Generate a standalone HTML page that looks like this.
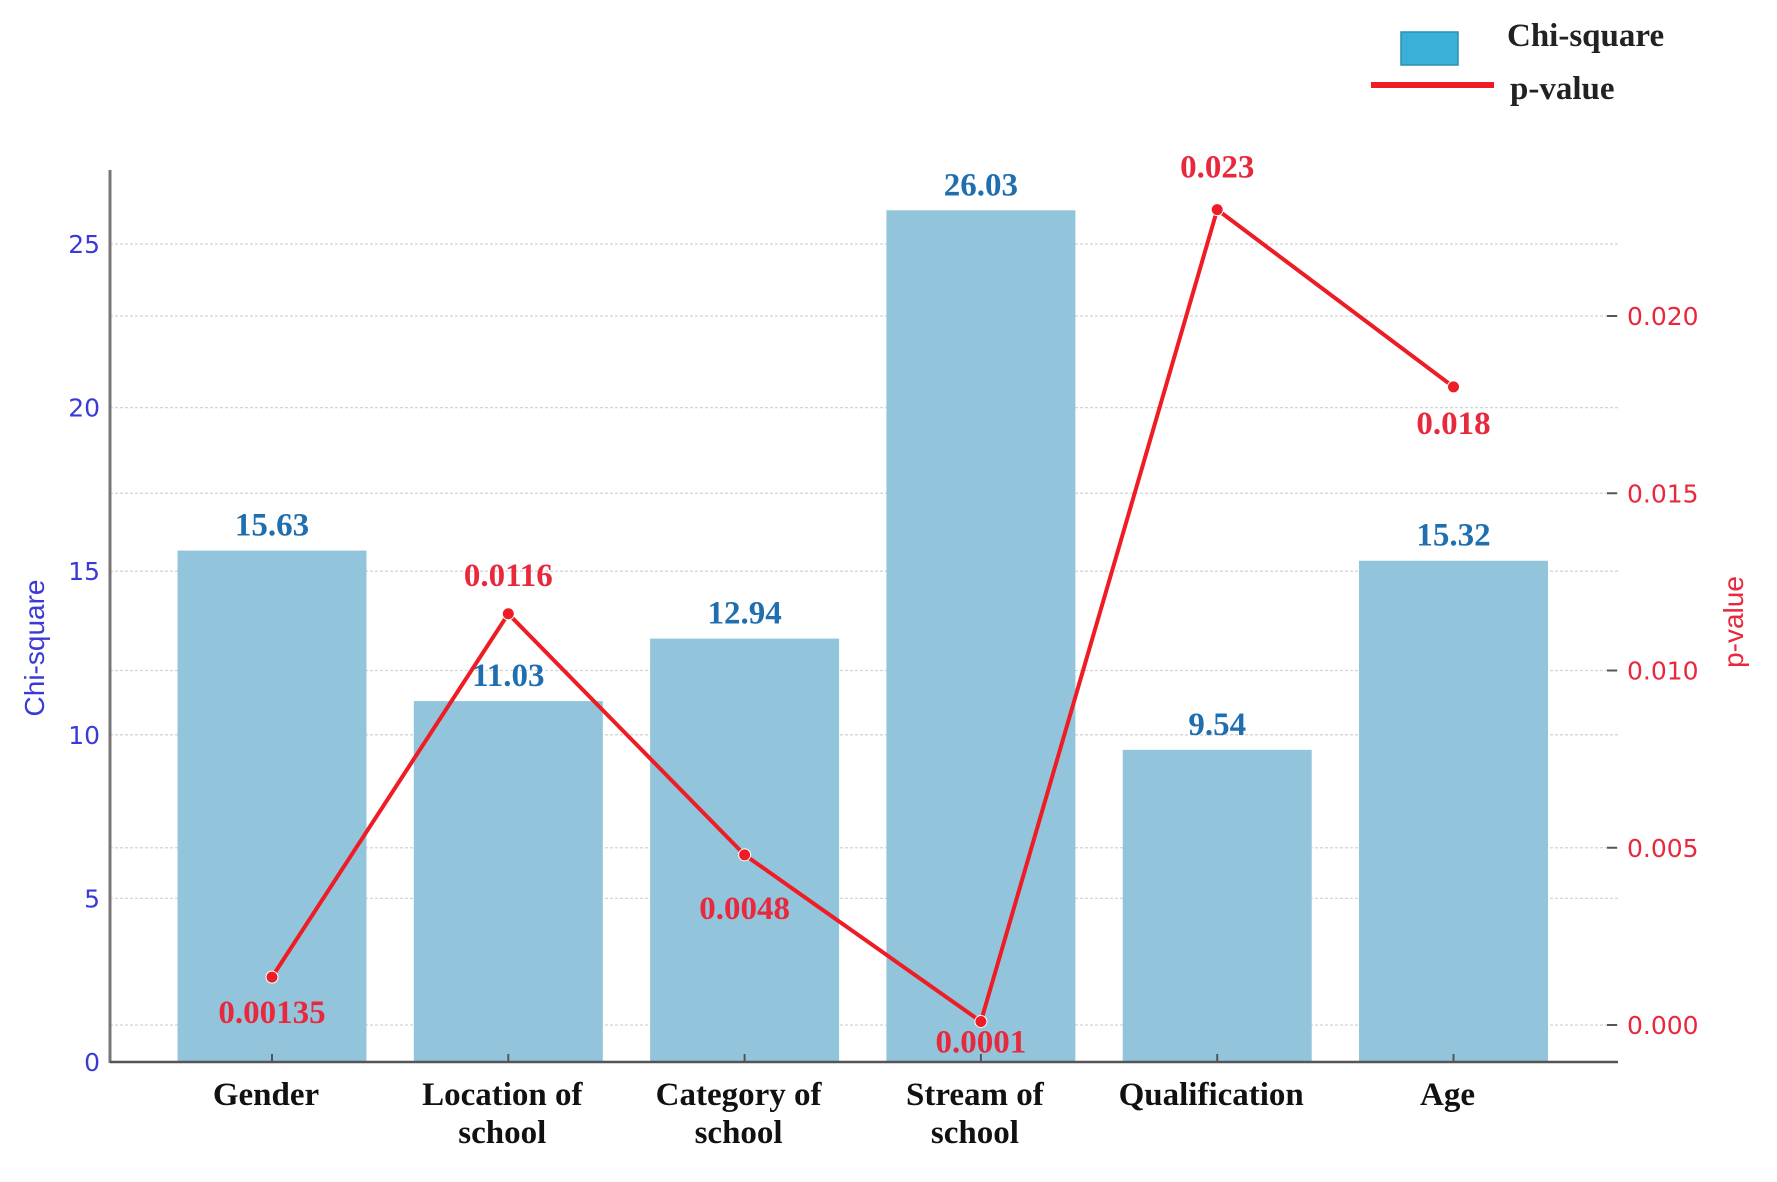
<!DOCTYPE html>
<html><head><meta charset="utf-8"><style>
html,body{margin:0;padding:0;background:#fff;}
svg{display:block;}
</style></head><body>
<svg id="chart" width="1777" height="1182" viewBox="0 0 1777 1182" xmlns="http://www.w3.org/2000/svg">
<g id="grid"></g>
<g id="bars"></g>
<g id="axes"></g>
<g id="line"></g>
<g id="labels"></g>
<text x="0" y="0" transform="translate(44,648) rotate(-90)" text-anchor="middle" font-family="Liberation Sans, sans-serif" font-size="28" fill="#3a3ad8">Chi-square</text>
<text x="0" y="0" transform="translate(1743,622) rotate(-90)" text-anchor="middle" font-family="Liberation Sans, sans-serif" font-size="28" fill="#e8283c">p-value</text>
<g>
<rect x="1401" y="32" width="57" height="33" fill="#3ab0d8" stroke="#2b8fb0" stroke-width="1.5"/>
<text x="1507" y="46" font-family="Liberation Serif, serif" font-weight="bold" font-size="33" fill="#222">Chi-square</text>
<line x1="1371" y1="85" x2="1494" y2="85" stroke="#ee1c24" stroke-width="6"/>
<text x="1510" y="99" font-family="Liberation Serif, serif" font-weight="bold" font-size="33" fill="#222">p-value</text>
</g>
</svg>
<script>
const categories = [["Gender"],["Location of","school"],["Category of","school"],["Stream of","school"],["Qualification"],["Age"]];
const chiValues = [15.63, 11.03, 12.94, 26.03, 9.54, 15.32];
const pValues = [0.00135, 0.0116, 0.0048, 0.0001, 0.023, 0.018];
const chiLabels = ["15.63","11.03","12.94","26.03","9.54","15.32"];
const pLabels = ["0.00135","0.0116","0.0048","0.0001","0.023","0.018"];
const chiTicks = [0,5,10,15,20,25];
const pTicks = [0,0.005,0.010,0.015,0.020];
const pTickLabels = ["0.000","0.005","0.010","0.015","0.020"];

const NS = "http://www.w3.org/2000/svg";
const X0 = 110, X1 = 1618, YTOP = 170;
const xC = i => 272 + i * 236.3;
const yChi = v => 1062 - v * 32.72;
const yP = v => 1025 - v * 35450;
const BW = 189;
const pLabelDy = [46, -28, 64, 31, -32, 47];
function mk(tag, attrs, parent) {
  const e = document.createElementNS(NS, tag);
  for (const k in attrs) e.setAttribute(k, attrs[k]);
  parent.appendChild(e);
  return e;
}
const grid = document.getElementById('grid');
const bars = document.getElementById('bars');
const axes = document.getElementById('axes');
const line = document.getElementById('line');
const labels = document.getElementById('labels');

chiTicks.forEach((t, i) => {
  const y = yChi(t);
  if (t > 0) {
    const g = mk('line', {x1: X0, x2: X1, y1: y, y2: y, stroke: '#d4d4d4', 'stroke-width': 1.3, 'stroke-dasharray': '3 2'}, grid);
    
    
  }
  const tl = mk('text', {x: X0 - 10, y: y + 9, 'text-anchor': 'end', 'font-family': 'DejaVu Sans, sans-serif', 'font-size': 25, fill: '#3a3ad8'}, axes);
  tl.textContent = String(t);
  
  
});
pTicks.forEach((t, i) => {
  const y = yP(t);
  const g = mk('line', {x1: X0, x2: X1, y1: y, y2: y, stroke: '#d4d4d4', 'stroke-width': 1.3, 'stroke-dasharray': '3 2'}, grid);
  
  
  const tk = mk('line', {x1: 1607, x2: 1617, y1: y, y2: y, stroke: '#555', 'stroke-width': 2}, axes);
  
  
  const tl = mk('text', {x: 1627, y: y + 9, 'font-family': 'DejaVu Sans, sans-serif', 'font-size': 25, fill: '#e8283c'}, axes);
  tl.textContent = pTickLabels[i];
  
  
});

chiValues.forEach((v, i) => {
  const b = mk('rect', {x: xC(i) - BW/2, y: yChi(v), width: BW, height: yChi(0) - yChi(v), fill: '#92c5dc'}, bars);
  
  
  const t = mk('text', {x: xC(i), y: yChi(v) - 15, 'text-anchor': 'middle', 'font-family': 'Liberation Serif, serif', 'font-weight': 'bold', 'font-size': 33, fill: '#1f6fb0'}, labels);
  t.textContent = chiLabels[i];
  
  
});

const la = mk('line', {x1: X0, x2: X0, y1: YTOP, y2: 1063, stroke: '#777', 'stroke-width': 3}, axes);


const ba = mk('line', {x1: X0, x2: X1, y1: 1062, y2: 1062, stroke: '#555', 'stroke-width': 2.5}, axes);


categories.forEach((c, i) => {
  const tk = mk('line', {x1: xC(i), x2: xC(i), y1: 1054, y2: 1062, stroke: '#555', 'stroke-width': 2}, axes);
  
  
  const t = mk('text', {x: xC(i) - 6, y: 1105, 'text-anchor': 'middle', 'font-family': 'Liberation Serif, serif', 'font-weight': 'bold', 'font-size': 33, fill: '#111'}, axes);
  
  
  c.forEach((s, j) => {
    const ts = mk('tspan', {x: xC(i) - 6, dy: j ? 38 : 0}, t);
    ts.textContent = s;
  });
});

const pts = pValues.map((v, i) => xC(i) + ',' + yP(v)).join(' ');
const pl = mk('polyline', {points: pts, fill: 'none', stroke: '#ee1c24', 'stroke-width': 4, 'stroke-linejoin': 'round'}, line);


pValues.forEach((v, i) => {
  const c = mk('circle', {cx: xC(i), cy: yP(v), r: 6, fill: '#ee1c24', stroke: '#fff', 'stroke-width': 1}, line);
  
  
  const t = mk('text', {x: xC(i), y: yP(v) + pLabelDy[i], 'text-anchor': 'middle', 'font-family': 'Liberation Serif, serif', 'font-weight': 'bold', 'font-size': 33, fill: '#e8283c'}, labels);
  t.textContent = pLabels[i];
  
  
});
</script>
</body></html>
